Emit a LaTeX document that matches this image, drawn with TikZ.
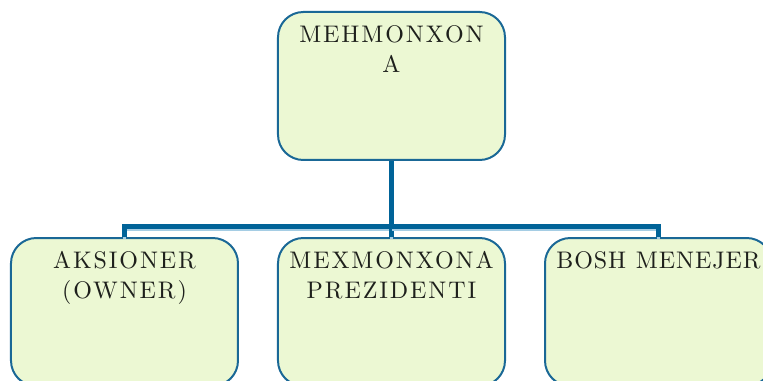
\documentclass[tikz,border=0pt]{standalone}
\usepackage{fontspec}
\newfontfamily\boxfont{lmroman10-regular.otf}[LetterSpace=8]
\usetikzlibrary{positioning}

\definecolor{boxfill}{RGB}{236,248,211}
\definecolor{boxline}{RGB}{26,104,150}
\definecolor{linkblue}{RGB}{0,99,152}
\definecolor{linkshade}{RGB}{165,205,228}
\definecolor{labelgray}{RGB}{30,32,28}

% top-aligned stack of lines, baseline on the first one
\newcommand{\boxtext}[1]{\begin{tabular}[t]{@{}c@{}}#1\end{tabular}}

\begin{document}
\begin{tikzpicture}[node distance=57pt and 28.5pt,
    post/.style={draw=boxline, line width=1.5pt, fill=boxfill, rounded corners=19pt,
        minimum width=170.25pt, minimum height=111pt, inner ysep=0pt,
        text height=23pt, text depth=88pt, text=labelgray,
        font=\boxfont\fontsize{18}{22.5}\selectfont},
    link/.style={draw=linkblue, line width=3.75pt,
        preaction={draw=linkshade, line width=2pt, transform canvas={yshift=-1.8pt}}}]
    \useasboundingbox (-293.625pt,-221.25pt) rectangle (278.625pt,64.5pt);

    % Nodes {hotel, owner, president, manager}
    \node [post]    (hotel)                               {\boxtext{MEHMONXON\\A}};
    \node [post]    (president)  [below=of hotel]         {\boxtext{MEXMONXONA\\PREZIDENTI}};
    \node [post]    (owner)      [left=of president]      {\boxtext{AKSIONER\\(OWNER)}};
    \node [post]    (manager)    [right=of president]
        {\addfontfeature{LetterSpace=4}\boxtext{BOSH\hspace{0.4em}MENEJER}};

    % Paths
    \path [link]    (hotel.south) -- ++(0,-49.5pt) coordinate (fork);
    \path [link]    (fork) -| (owner.north);
    \path [link]    (fork) -- (president.north);
    \path [link]    (fork) -| (manager.north);

\end{tikzpicture}
\end{document}
